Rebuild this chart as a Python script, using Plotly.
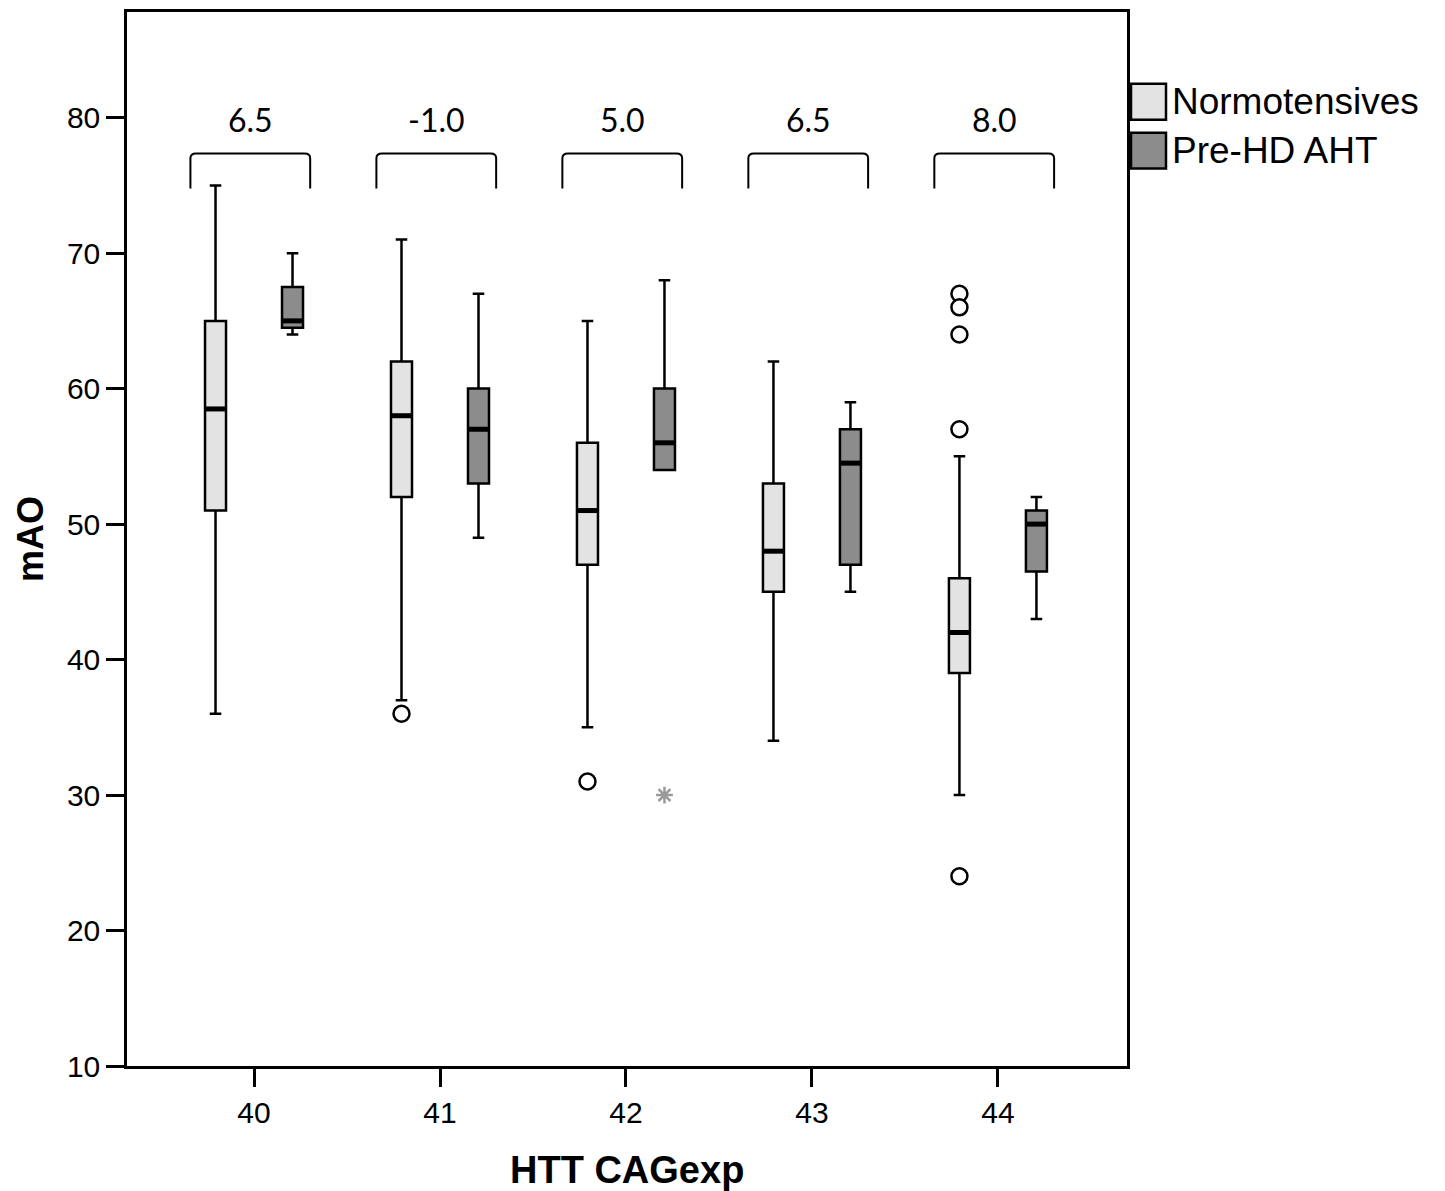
import plotly.graph_objects as go

# ---- data ----
categories = [40, 41, 42, 43, 44]

normo_lower = [36, 37, 35, 34, 30]
normo_q1 = [51, 52, 47, 45, 39]
normo_median = [58.5, 58, 51, 48, 42]
normo_q3 = [65, 62, 56, 53, 46]
normo_upper = [75, 71, 65, 62, 55]

pre_lower = [64, 49, 54, 45, 43]
pre_q1 = [64.5, 53, 54, 47, 46.5]
pre_median = [65, 57, 56, 54.5, 50]
pre_q3 = [67.5, 60, 60, 57, 51]
pre_upper = [70, 67, 68, 59, 52]

normo_outlier_cat = [41, 42, 44, 44, 44, 44, 44]
normo_outlier_val = [36, 31, 67, 66, 64, 57, 24]
pre_extreme_cat = [42]
pre_extreme_val = [30]

diff_labels = ["6.5", "-1.0", "5.0", "6.5", "8.0"]

# ---- style ----
OFF = 0.207
BOX_W = 0.113
NORMO_FILL = "#e3e3e3"
PRE_FILL = "#8c8c8c"
FONT = "Arial, Liberation Sans, sans-serif"

nx = [c - OFF for c in categories]
px_ = [c + OFF for c in categories]

fig = go.Figure()

def add_box(xs, q1, med, q3, lo, hi, fill):
    fig.add_trace(go.Box(
        x=xs, q1=q1, median=med, q3=q3, lowerfence=lo, upperfence=hi,
        width=BOX_W, whiskerwidth=0.55, fillcolor=fill,
        line=dict(color="black", width=2.5), boxpoints=False,
        showlegend=False, hoverinfo="skip"))
    mx, my = [], []
    for x, m in zip(xs, med):
        mx += [x - BOX_W / 2, x + BOX_W / 2, None]
        my += [m, m, None]
    fig.add_trace(go.Scatter(x=mx, y=my, mode="lines",
                             line=dict(color="black", width=5),
                             showlegend=False, hoverinfo="skip"))

add_box(nx, normo_q1, normo_median, normo_q3, normo_lower, normo_upper, NORMO_FILL)
add_box(px_, pre_q1, pre_median, pre_q3, pre_lower, pre_upper, PRE_FILL)

fig.add_trace(go.Scatter(
    x=[c - OFF for c in normo_outlier_cat], y=normo_outlier_val, mode="markers",
    marker=dict(symbol="circle", size=16, color="white",
                line=dict(color="black", width=2.5)),
    showlegend=False, hoverinfo="skip"))
fig.add_trace(go.Scatter(
    x=[c + OFF for c in pre_extreme_cat], y=pre_extreme_val, mode="markers",
    marker=dict(symbol="asterisk-open", size=14, color="#9a9a9a",
                line=dict(color="#9a9a9a", width=2.5)),
    showlegend=False, hoverinfo="skip"))

# brackets and difference labels
BR_TOP = 77.35
BR_BOT = 74.77
BR_HALF = 0.322
BR_R = 0.03
shapes = []
annotations = []
for c, lab in zip(categories, diff_labels):
    cx = c - 0.02
    x0, x1 = cx - BR_HALF, cx + BR_HALF
    path = (f"M {x0},{BR_BOT} L {x0},{BR_TOP - 0.35} Q {x0},{BR_TOP} {x0 + BR_R},{BR_TOP} "
            f"L {x1 - BR_R},{BR_TOP} Q {x1},{BR_TOP} {x1},{BR_TOP - 0.35} L {x1},{BR_BOT}")
    shapes.append(dict(type="path", path=path, xref="x", yref="y",
                       line=dict(color="black", width=2)))
    annotations.append(dict(x=cx, y=79.9, xref="x", yref="y", text=lab,
                            showarrow=False, xanchor="center", yanchor="middle",
                            font=dict(family="Lato, Open Sans, sans-serif", size=32, color="black")))

# manual legend
leg_items = [("Normotensives", NORMO_FILL, 81, 117), ("Pre-HD AHT", PRE_FILL, 130, 166)]
H_PLOT = 1057.0
for name, col, ytop, ybot in leg_items:
    shapes.append(dict(type="rect", xref="paper", yref="paper",
                       x0=(1131 - 127) / 1000, x1=(1166 - 127) / 1000,
                       y0=(1066 - ybot) / H_PLOT, y1=(1066 - ytop) / H_PLOT,
                       fillcolor=col, line=dict(color="black", width=2.5)))
    annotations.append(dict(x=(1170 - 127) / 1000, y=(1066 - (ytop + ybot) / 2) / H_PLOT,
                            xref="paper", yref="paper", text=name, showarrow=False,
                            xanchor="left", yanchor="middle",
                            font=dict(family=FONT, size=37, color="black")))

# axis titles
annotations.append(dict(x=0.5, y=(1066 - 1170) / H_PLOT, xref="paper", yref="paper",
                        text="<b>HTT CAGexp</b>", showarrow=False, xanchor="center",
                        yanchor="middle", font=dict(family=FONT, size=38, color="black")))
annotations.append(dict(x=(30 - 127) / 1000, y=0.5, xref="paper", yref="paper",
                        text="<b>mAO</b>", showarrow=False, textangle=-90,
                        xanchor="center", yanchor="middle",
                        font=dict(family=FONT, size=36, color="black")))

fig.update_layout(
    width=1445, height=1191,
    margin=dict(l=127, r=318, t=9, b=125),
    paper_bgcolor="white", plot_bgcolor="white",
    boxmode="overlay",
    shapes=shapes, annotations=annotations,
    showlegend=False,
    xaxis=dict(range=[39.317, 44.694], tickvals=categories,
               ticktext=[str(c) for c in categories],
               ticks="outside", ticklen=18, tickwidth=2.5, tickcolor="black",
               showline=True, linecolor="black", linewidth=2.5, mirror=True,
               showgrid=False, zeroline=False,
               tickfont=dict(family=FONT, size=30, color="black")),
    yaxis=dict(range=[10, 87.8], tickvals=[10, 20, 30, 40, 50, 60, 70, 80],
               ticks="outside", ticklen=18, tickwidth=2.5, tickcolor="black",
               showline=True, linecolor="black", linewidth=2.5, mirror=True,
               showgrid=False, zeroline=False,
               tickfont=dict(family=FONT, size=30, color="black")),
)

fig.write_html("out.html", config={"displayModeBar": False},
               post_script="document.body.style.margin='0';document.body.style.overflow='hidden';")
